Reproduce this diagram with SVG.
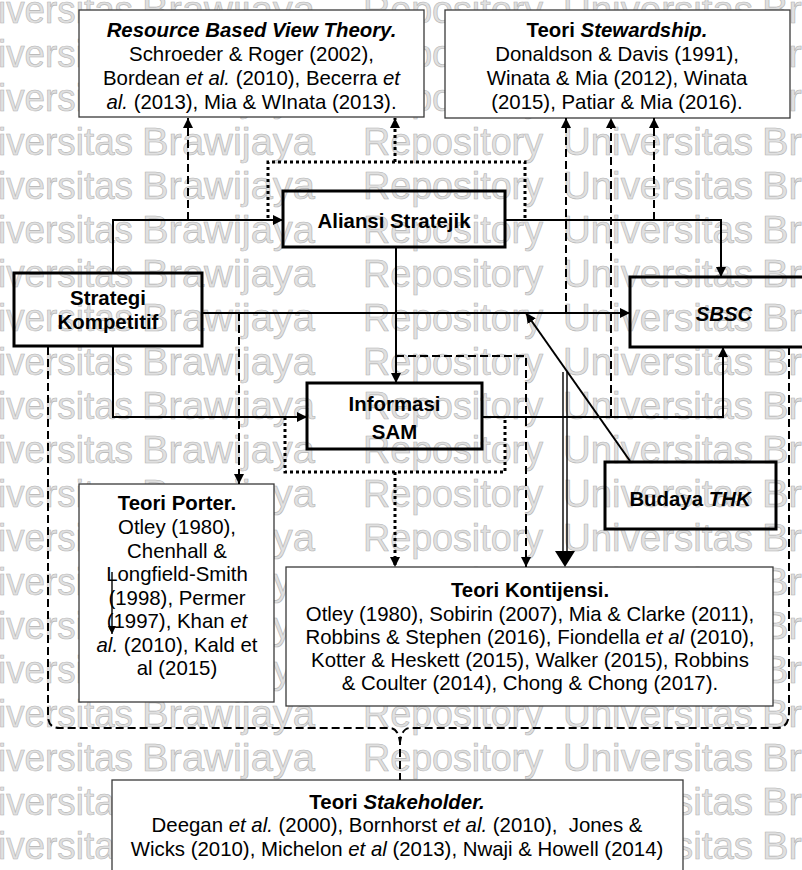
<svg xmlns="http://www.w3.org/2000/svg" width="802" height="870" viewBox="0 0 802 870">
<defs>
<style>
.wm{font-family:"Liberation Sans",Arial,sans-serif;font-size:38px;fill:#e0e0e0;stroke:#b4b4b4;stroke-width:0.6}
.t{font-family:"Liberation Sans",Arial,sans-serif;font-size:20.4px;fill:#000;text-anchor:middle}
.b{font-weight:bold}
.i{font-style:italic}
.ref{fill:#fff;stroke:#3a3a3a;stroke-width:1.3}
.node{fill:none;stroke:#000;stroke-width:3}
.sol{fill:none;stroke:#000;stroke-width:2}
.thin{fill:none;stroke:#000;stroke-width:1.4}
.dsh{fill:none;stroke:#000;stroke-width:2;stroke-dasharray:8 4}
.dot{fill:none;stroke:#000;stroke-width:3;stroke-dasharray:3 3}
</style>
<marker id="ah" viewBox="0 0 10 10" refX="10" refY="5" markerWidth="10" markerHeight="10" markerUnits="userSpaceOnUse" orient="auto"><path d="M0,0 L10,5 L0,10 z" fill="#000"/></marker>
<marker id="ahs" viewBox="0 0 10 10" refX="10" refY="5" markerWidth="8" markerHeight="8" markerUnits="userSpaceOnUse" orient="auto"><path d="M0,0 L10,5 L0,10 z" fill="#000"/></marker>
<g id="wmrow" class="wm">
<text x="-49" y="0" textLength="182" lengthAdjust="spacingAndGlyphs">Universitas</text>
<text x="142" y="0" textLength="173" lengthAdjust="spacingAndGlyphs">Brawijaya</text>
<text x="363" y="0" textLength="180" lengthAdjust="spacingAndGlyphs">Repository</text>
<text x="563" y="0" textLength="190" lengthAdjust="spacingAndGlyphs">Universitas</text>
<text x="762" y="0" textLength="173" lengthAdjust="spacingAndGlyphs">Brawijaya</text>
</g>
</defs>
<rect width="802" height="870" fill="#fff"/>
<g id="watermark">
<use href="#wmrow" y="23"/><use href="#wmrow" y="67"/><use href="#wmrow" y="111"/><use href="#wmrow" y="155"/>
<use href="#wmrow" y="199"/><use href="#wmrow" y="243"/><use href="#wmrow" y="287"/><use href="#wmrow" y="331"/>
<use href="#wmrow" y="375"/><use href="#wmrow" y="419"/><use href="#wmrow" y="463"/><use href="#wmrow" y="507"/>
<use href="#wmrow" y="551"/><use href="#wmrow" y="595"/><use href="#wmrow" y="639"/><use href="#wmrow" y="683"/>
<use href="#wmrow" y="727"/><use href="#wmrow" y="771"/><use href="#wmrow" y="815"/><use href="#wmrow" y="859"/>
</g>

<g id="rbv">
<rect class="ref" x="79" y="10" width="345" height="107"/>
<text class="t" x="251.5" y="37"><tspan class="b i">Resource Based View Theory.</tspan></text>
<text class="t" x="251.5" y="61">Schroeder &amp; Roger (2002),</text>
<text class="t" x="251.5" y="85">Bordean <tspan class="i">et al.</tspan> (2010), Becerra <tspan class="i">et</tspan></text>
<text class="t" x="251.5" y="108.5"><tspan class="i">al.</tspan> (2013), Mia &amp; WInata (2013).</text>
</g>

<g id="stewardship">
<rect class="ref" x="445" y="10" width="345" height="108"/>
<text class="t b" x="617" y="37">Teori <tspan class="i">Stewardship.</tspan></text>
<text class="t" x="617" y="61">Donaldson &amp; Davis (1991),</text>
<text class="t" x="617" y="85">Winata &amp; Mia (2012), Winata</text>
<text class="t" x="617" y="108.5">(2015), Patiar &amp; Mia (2016).</text>
</g>

<g id="porter">
<rect class="ref" x="79" y="484" width="195" height="218"/>
<text class="t b" x="177" y="510">Teori Porter.</text>
<text class="t" x="177" y="534">Otley (1980),</text>
<text class="t" x="177" y="557.5">Chenhall &amp;</text>
<text class="t" x="177" y="581">Longfield-Smith</text>
<text class="t" x="177" y="604.5">(1998), Permer</text>
<text class="t" x="177" y="628">(1997), Khan <tspan class="i">et</tspan></text>
<text class="t" x="177" y="651.5"><tspan class="i">al.</tspan> (2010), Kald et</text>
<text class="t" x="177" y="675">al (2015)</text>
</g>

<g id="kontijensi">
<rect class="ref" x="286" y="567" width="487" height="139"/>
<text class="t b" x="530" y="597">Teori Kontijensi.</text>
<text class="t" x="530" y="620.5">Otley (1980), Sobirin (2007), Mia &amp; Clarke (2011),</text>
<text class="t" x="530" y="644">Robbins &amp; Stephen (2016), Fiondella <tspan class="i">et al</tspan> (2010),</text>
<text class="t" x="530" y="667">Kotter &amp; Heskett (2015), Walker (2015), Robbins</text>
<text class="t" x="530" y="690">&amp; Coulter (2014), Chong &amp; Chong (2017).</text>
</g>

<g id="stakeholder">
<rect class="ref" x="112" y="780" width="571" height="110"/>
<text class="t b" x="397" y="808.5">Teori <tspan class="i">Stakeholder.</tspan></text>
<text class="t" x="397" y="832" xml:space="preserve">Deegan <tspan class="i">et al.</tspan> (2000), Bornhorst <tspan class="i">et al.</tspan> (2010),  Jones &amp;</text>
<text class="t" x="397" y="855.5">Wicks (2010), Michelon <tspan class="i">et al</tspan> (2013), Nwaji &amp; Howell (2014)</text>
</g>

<g id="aliansi">
<rect class="node" x="283" y="191" width="222" height="56"/>
<text class="t b" x="394" y="228">Aliansi Stratejik</text>
</g>

<g id="strategi">
<rect class="node" x="14" y="273" width="188" height="73"/>
<text class="t b" x="108" y="305">Strategi</text>
<text class="t b" x="108" y="329">Kompetitif</text>
</g>

<g id="sbsc">
<rect class="node" x="630" y="277" width="190" height="70"/>
<text class="t b i" x="724" y="321">SBSC</text>
</g>

<g id="informasi">
<rect class="node" x="307" y="383" width="175" height="66"/>
<text class="t b" x="394.5" y="411">Informasi</text>
<text class="t b" x="394.5" y="438.5">SAM</text>
</g>

<g id="budaya">
<rect class="node" x="605" y="462" width="171" height="67"/>
<text class="t b" x="690" y="506">Budaya <tspan class="i">THK</tspan></text>
</g>

<g id="connectors">
<path class="sol" d="M113,273 V220 H283" marker-end="url(#ah)"/>
<path class="sol" d="M202,313 H630" marker-end="url(#ah)"/>
<path class="sol" d="M113,346 V417 H307" marker-end="url(#ah)"/>
<path class="sol" d="M505,220 H721 V277" marker-end="url(#ah)"/>
<path class="sol" d="M396,247 V383" marker-end="url(#ah)"/>
<path class="sol" d="M482,417 H723 V347" marker-end="url(#ah)"/>
<path class="sol" d="M630,461 L526,313" marker-end="url(#ah)"/>
<path class="thin" d="M563,372 V556 M567,372 V556"/>
<polygon points="555,551 575,551 565,567" fill="#000"/>
<path class="thin" d="M112,572 V634" marker-end="url(#ahs)"/>

<path class="dsh" d="M188,220 V118" marker-end="url(#ah)"/>
<path class="dsh" d="M566,313 V118" marker-end="url(#ah)"/>
<path class="dsh" d="M611,417 V118" marker-end="url(#ah)"/>
<path class="dsh" d="M654,220 V118" marker-end="url(#ah)"/>
<path class="dsh" d="M239,313 V484" marker-end="url(#ah)"/>
<path class="dsh" d="M396,356 H526 V567" marker-end="url(#ah)"/>
<path class="dsh" d="M48,347 V716 Q48,728 60,728 H390 Q398,728 400,742 V780"/>
<path class="dsh" d="M789,347 V712 Q789,728 777,728 H410 Q402,728 400,742"/>

<path class="dot" d="M268,218 V162 H525 V220"/>
<path class="dot" d="M395,162 V118" marker-end="url(#ah)"/>
<path class="dot" d="M285,417 V472 H505 V417"/>
<path class="dot" d="M395,472 V567" marker-end="url(#ah)"/>
</g>
</svg>
